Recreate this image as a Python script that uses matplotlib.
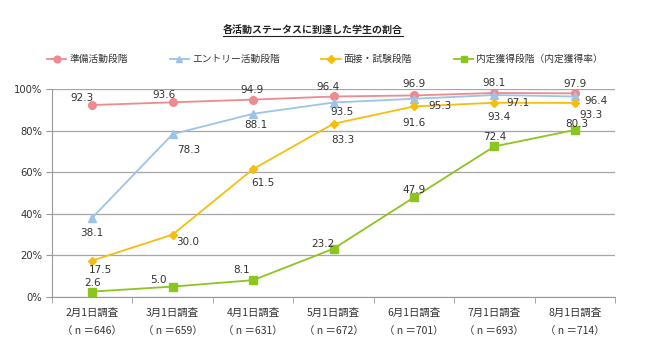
import matplotlib
matplotlib.use("Agg")
import matplotlib.pyplot as plt

plt.rcParams['font.family'] = ['Noto Sans CJK JP', 'DejaVu Sans']

categories = ["2月1日調査\n（ n ＝646）", "3月1日調査\n（ n ＝659）", "4月1日調査\n（ n ＝631）",
              "5月1日調査\n（ n ＝672）", "6月1日調査\n（ n ＝701）", "7月1日調査\n（ n ＝693）",
              "8月1日調査\n（ n ＝714）"]
series_names = ["準備活動段階", "エントリー活動段階", "面接・試験段階", "内定獲得段階（内定獲得率）"]
junbi = [92.3, 93.6, 94.9, 96.4, 96.9, 98.1, 97.9]
entry = [38.1, 78.3, 88.1, 93.5, 95.3, 97.1, 96.4]
mensetsu = [17.5, 30.0, 61.5, 83.3, 91.6, 93.4, 93.3]
naitei = [2.6, 5.0, 8.1, 23.2, 47.9, 72.4, 80.3]
yticks = [0, 20, 40, 60, 80, 100]

colors = ["#EF8A8E", "#9DC3E6", "#F5BE0F", "#8CC51E"]
markers = ["o", "^", "D", "s"]
msizes = [5.5, 5.5, 4.5, 5.5]

fig = plt.figure(figsize=(6.5, 3.54), dpi=100)
ax = fig.add_axes([52/650, 1-297/354, (615-52)/650, (297-89)/354])
x = list(range(len(categories)))

all_series = [junbi, entry, mensetsu, naitei]
lines = []
for s, c, m, ms, name in zip(all_series, colors, markers, msizes, series_names):
    ln, = ax.plot(x, s, color=c, marker=m, markersize=ms, linewidth=1.3, label=name)
    lines.append(ln)

fs = 7.5
tc = "#333333"
num_font = ['DejaVu Sans']

def lab(xs, ys, offs):
    for xi, yi, (dx, dy) in zip(xs, ys, offs):
        ax.annotate(f"{yi:.1f}", (xi, yi), xytext=(dx, dy), textcoords="offset points",
                    ha="center", va="center", fontsize=fs, color=tc, family=num_font)

lab(x, junbi, [(-7, 5), (-6, 5), (-1, 7), (-4, 6.5), (0, 8), (0, 7), (0, 7)])
lab(x, entry, [(0, -11), (11.5, -11.5), (2, -8), (6, -7), (19, -5), (17, -5.5), (15, -3.5)])
lab(x, mensetsu, [(6, -7), (11, -5), (7, -10), (7, -11.5), (0, -12), (3, -10), (12, -8.5)])
lab(x, naitei, [(0, 6.5), (-10, 5), (-8, 7), (-8, 3.5), (0, 5), (0, 7), (1.5, 4.5)])

ax.set_xlim(-0.5, len(categories) - 0.5)
ax.set_ylim(0, 100)
ax.set_yticks(yticks)
ax.set_yticklabels([f"{v}%" for v in yticks], fontsize=7.2, color=tc, family=num_font)
ax.set_xticks(x)
ax.set_xticklabels(categories, fontsize=fs, color=tc, linespacing=2.0)
ax.set_xticks([i - 0.5 for i in range(len(categories) + 1)], minor=True)
ax.tick_params(axis="x", which="major", length=0, pad=8)
ax.tick_params(axis="x", which="minor", length=4, color="#999999", direction="out")
ax.tick_params(axis="y", length=4, color="#999999", direction="out", pad=3)
ax.grid(axis="y", color="#A6A6A6", linewidth=0.9)
ax.set_axisbelow(True)
for sp in ["top", "right"]:
    ax.spines[sp].set_visible(False)
ax.spines["left"].set_color("#999999")
ax.spines["bottom"].set_color("#999999")

t = fig.text(313/650, 1-30/354, "各活動ステータスに到達した学生の割合", ha="center", va="center",
             fontsize=7.2, color="#222222", fontweight="bold")
fig.canvas.draw()
bb = t.get_window_extent()
fig.add_artist(plt.Line2D([bb.x0/650, bb.x1/650], [(bb.y0-1)/354, (bb.y0-1)/354],
                          color="#222222", linewidth=0.8))

fig.legend(handles=lines, loc="center", bbox_to_anchor=(325/650, 1-59/354), ncol=4,
           frameon=False, fontsize=7, handlelength=2.0, columnspacing=4.3, labelcolor=tc,
           handletextpad=0.3, markerscale=0.9)

fig.savefig("out.png", dpi=100)
